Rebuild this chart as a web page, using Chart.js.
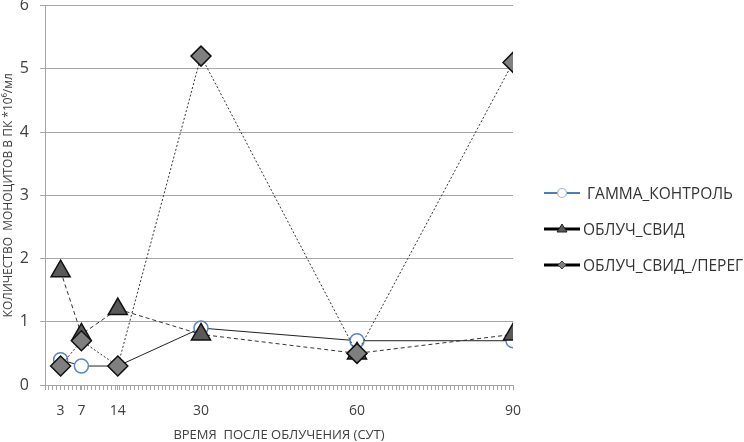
<!DOCTYPE html>
<html>
<head>
<meta charset="utf-8">
<script src="https://cdn.jsdelivr.net/npm/chart.js@4"></script>
<style>
  html, body { margin: 0; padding: 0; background: #fff; }
  #wrap { position: relative; width: 744px; height: 442px; }
  #legend { position: absolute; left: 543px; top: 175px; font: 15.5px "Open Sans", "DejaVu Sans", sans-serif; color: #333; }
  #legend div { height: 36px; display: flex; align-items: center; white-space: nowrap; }
  #legend svg { margin-right: 2px; }
</style>
</head>
<body>
<div id="wrap">
  <canvas id="c" width="744" height="442"></canvas>
  <div id="legend"></div>
</div>
<script>
// ---- Data ----
var DAYS = [3, 7, 14, 30, 60, 90];
var GAMMA_CONTROL = [0.4, 0.3, 0.3, 0.9, 0.7, 0.7];
var IRRAD_SVID = [1.8, 0.8, 1.2, 0.8, 0.5, 0.8];
var IRRAD_SVID_PEREG = [0.3, 0.7, 0.3, 5.2, 0.5, 5.1];
var SERIES_NAMES = ['ГАММА_КОНТРОЛЬ', 'ОБЛУЧ_СВИД', 'ОБЛУЧ_СВИД_/ПЕРЕГ'];
var Y_TICKS = [0, 1, 2, 3, 4, 5, 6];
var X_TITLE = 'ВРЕМЯ  ПОСЛЕ ОБЛУЧЕНИЯ (СУТ)';
var Y_TITLE = 'КОЛИЧЕСТВО  МОНОЦИТОВ В ПК *10⁶/мл';

function pts(ys) { return DAYS.map(function (d, i) { return { x: d, y: ys[i] }; }); }

var FONT = '"Open Sans", "DejaVu Sans", sans-serif';
var TXT = '#404040';
var GRID = '#a6a6a6';

new Chart(document.getElementById('c'), {
  type: 'line',
  data: { datasets: [
    { label: SERIES_NAMES[0], data: pts(GAMMA_CONTROL), order: 3,
      borderColor: '#222', borderWidth: 1, pointStyle: 'circle', pointRadius: 7,
      pointBorderColor: '#5b87c0', pointBackgroundColor: '#fff', pointBorderWidth: 1.5 },
    { label: SERIES_NAMES[1], data: pts(IRRAD_SVID), order: 2,
      borderColor: '#333', borderWidth: 1, borderDash: [4, 3], pointStyle: 'triangle', pointRadius: 11,
      pointBorderColor: '#111', pointBackgroundColor: '#595959', pointBorderWidth: 1.5 },
    { label: SERIES_NAMES[2], data: pts(IRRAD_SVID_PEREG), order: 1,
      borderColor: '#333', borderWidth: 1, borderDash: [2, 2], pointStyle: 'rectRot', pointRadius: 10,
      pointBorderColor: '#111', pointBackgroundColor: '#7f7f7f', pointBorderWidth: 1.5 }
  ] },
  options: {
    responsive: false, animation: false,
    layout: { autoPadding: false, padding: { top: 5.5, right: 231, left: 1, bottom: 0 } },
    plugins: { legend: { display: false }, tooltip: { enabled: false } },
    scales: {
      x: {
        type: 'linear', min: 0, max: 90,
        afterBuildTicks: function (ax) {
          var t = [];
          for (var v = 0; v <= 90.001; v += 0.75) t.push(+v.toFixed(2));
          DAYS.forEach(function (d) { if (t.indexOf(d) < 0) t.push(d); });
          t.sort(function (a, b) { return a - b; });
          ax.ticks = t.map(function (v) { return { value: v }; });
        },
        // fixed axis band so the plot area lands where the original has it
        afterFit: function (ax) { ax.height = 57; ax.paddingLeft = 0; ax.paddingRight = 0; },
        grid: { drawOnChartArea: false, color: GRID, tickLength: 5 },
        border: { color: GRID, width: 1 },
        ticks: { autoSkip: false, maxRotation: 0, color: TXT, font: { family: FONT, size: 14 }, padding: 13,
          callback: function (v) { return DAYS.indexOf(v) >= 0 ? String(v) : ''; } },
        title: { display: true, text: X_TITLE, color: TXT, font: { family: FONT, size: 13 }, padding: { top: 9, bottom: -1 } }
      },
      y: {
        min: 0, max: 6,
        afterBuildTicks: function (ax) { ax.ticks = Y_TICKS.map(function (v) { return { value: v }; }); },
        afterFit: function (ax) { ax.width = 44; ax.paddingTop = 0; ax.paddingBottom = 0; },
        grid: { color: GRID, tickLength: 5 },
        border: { color: GRID, width: 1 },
        ticks: { color: TXT, font: { family: FONT, size: 16 }, padding: 11 },
        title: { display: true, text: Y_TITLE, color: TXT, font: { family: FONT, size: 12 }, padding: { top: 0, bottom: 5 } }
      }
    }
  }
});

// ---- HTML legend ----
var LEG = [
  { line: '#4a7ebb', w: 2, marker: '<circle cx="19" cy="8" r="4.5" fill="#fff" stroke="#9db5d6" stroke-width="1.2"/>' },
  { line: '#000', w: 3, marker: '<polygon points="19,3 24,11 14,11" fill="#595959" stroke="#222" stroke-width="1"/>' },
  { line: '#000', w: 3, marker: '<polygon points="19,4 23,8 19,12 15,8" fill="#7f7f7f" stroke="#444" stroke-width="1"/>' }
];
var lg = document.getElementById('legend');
SERIES_NAMES.forEach(function (name, i) {
  var s = LEG[i];
  var d = document.createElement('div');
  d.innerHTML = '<svg width="38" height="16"><line x1="1" y1="8" x2="37" y2="8" stroke="' + s.line +
    '" stroke-width="' + s.w + '"/>' + s.marker + '</svg>' + (i === 0 ? '&nbsp;' : '') + name;
  lg.appendChild(d);
});
</script>
</body>
</html>
